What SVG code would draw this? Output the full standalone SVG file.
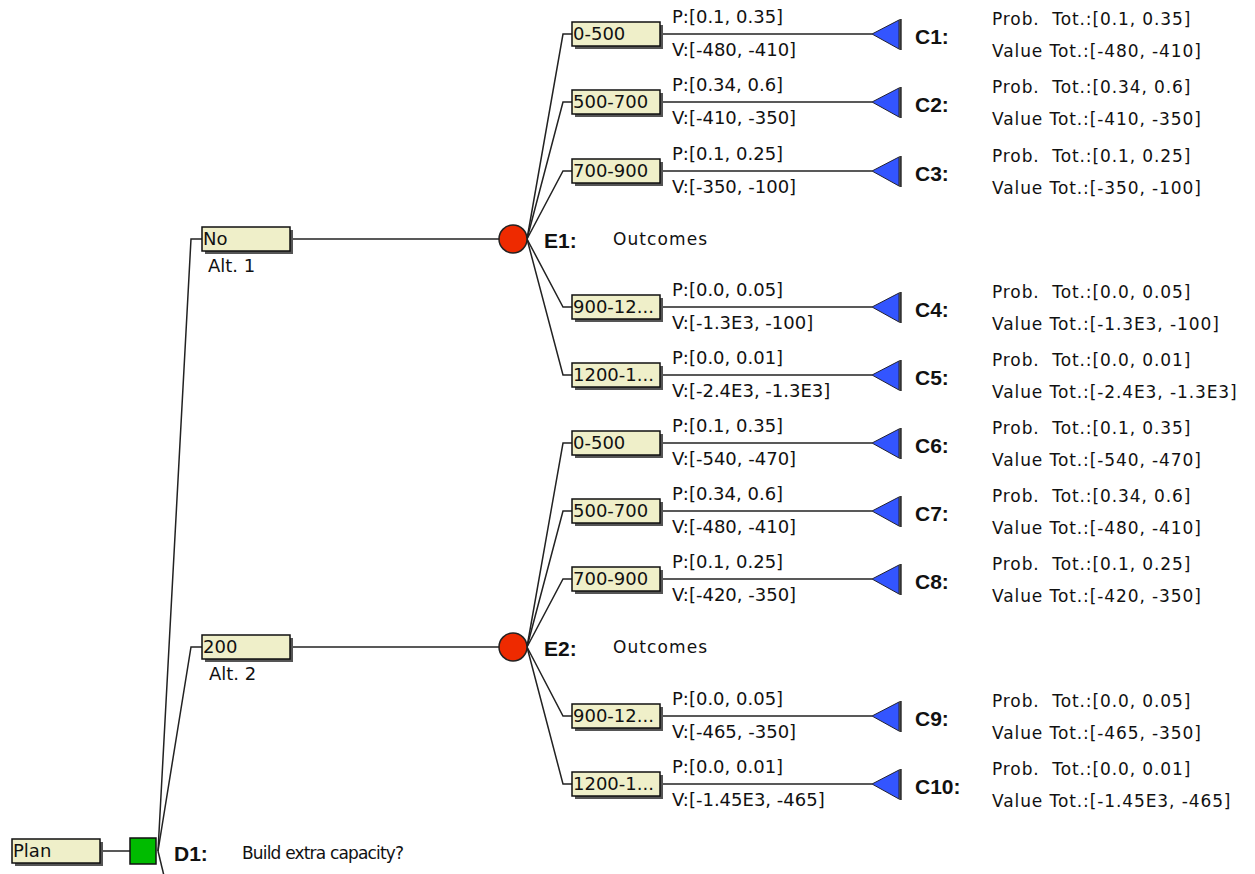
<svg xmlns="http://www.w3.org/2000/svg" width="1255" height="874" viewBox="0 0 1255 874">
  <style>
    .bg { fill: #ffffff; }
    .wire { fill: none; stroke: #222; stroke-width: 1.5; }
    .box { fill: #efefc9; stroke: #111; stroke-width: 1.5; }
    .shadow { fill: #555; }
    .t { font-family: "DejaVu Sans", Verdana, sans-serif; font-size: 18px; fill: #111; }
    .s { font-family: "DejaVu Sans", Verdana, sans-serif; font-size: 17px; fill: #111; letter-spacing: 0.9px; white-space: pre; }
    .lbl { font-family: "Liberation Sans", Arial, sans-serif; font-size: 21px; font-weight: bold; fill: #111; }
    .chance { fill: #ee2a00; stroke: #222; stroke-width: 1.5; }
    .decision { fill: #00bb00; stroke: #111; stroke-width: 1.5; }
    .tri { fill: #3355ff; stroke: #223; stroke-width: 1; }
    .triedge { stroke: #333; stroke-width: 2.5; }
  </style>
  <defs>
    <g id="outbox">
      <rect class="shadow" x="3" y="3" width="88" height="24"/>
      <rect class="box" x="0" y="0" width="88" height="24"/>
    </g>
    <g id="term">
      <polygon class="tri" points="0,0 27,-14 27,15"/>
      <line class="triedge" x1="28.5" y1="-15" x2="28.5" y2="16"/>
    </g>
  </defs>
  <rect class="bg" x="0" y="0" width="1255" height="874"/>

  <!-- connectors -->
  <g id="connectors">
    <line class="wire" x1="100" y1="851" x2="130" y2="851"/>
    <polyline class="wire" points="158,851 191,239 202,239"/>
    <polyline class="wire" points="158,851 191,647 202,647"/>
    <line class="wire" x1="158" y1="851" x2="165" y2="880"/>
    <line class="wire" x1="290" y1="239" x2="499" y2="239"/>
    <line class="wire" x1="290" y1="647" x2="499" y2="647"/>
    <!-- E1 branches -->
    <polyline class="wire" points="527,239 563,34 572,34"/>
    <polyline class="wire" points="527,239 563,102 572,102"/>
    <polyline class="wire" points="527,239 563,171 572,171"/>
    <polyline class="wire" points="527,239 563,307 572,307"/>
    <polyline class="wire" points="527,239 563,375 572,375"/>
    <!-- E2 branches -->
    <polyline class="wire" points="527,647 563,443 572,443"/>
    <polyline class="wire" points="527,647 563,511 572,511"/>
    <polyline class="wire" points="527,647 563,579 572,579"/>
    <polyline class="wire" points="527,647 563,716 572,716"/>
    <polyline class="wire" points="527,647 563,784 572,784"/>
    <!-- outcome to consequence lines -->
    <line class="wire" x1="660" y1="34" x2="872" y2="34"/>
    <line class="wire" x1="660" y1="102" x2="872" y2="102"/>
    <line class="wire" x1="660" y1="171" x2="872" y2="171"/>
    <line class="wire" x1="660" y1="307" x2="872" y2="307"/>
    <line class="wire" x1="660" y1="375" x2="872" y2="375"/>
    <line class="wire" x1="660" y1="443" x2="872" y2="443"/>
    <line class="wire" x1="660" y1="511" x2="872" y2="511"/>
    <line class="wire" x1="660" y1="579" x2="872" y2="579"/>
    <line class="wire" x1="660" y1="716" x2="872" y2="716"/>
    <line class="wire" x1="660" y1="784" x2="872" y2="784"/>
  </g>

  <!-- root -->
  <g id="plan">
    <use href="#outbox" x="12" y="839"/>
    <text class="t" x="13" y="857">Plan</text>
  </g>
  <g id="D1">
    <rect class="decision" x="130" y="838" width="26" height="26"/>
    <text class="lbl" x="174" y="861">D1:</text>
    <text class="s" x="242" y="859" textLength="163" lengthAdjust="spacing">Build extra capacity?</text>
  </g>

  <!-- alternatives -->
  <g id="alt1">
    <use href="#outbox" x="202" y="227"/>
    <text class="t" x="203" y="245">No</text>
    <text class="t" x="208" y="272">Alt. 1</text>
  </g>
  <g id="alt2">
    <use href="#outbox" x="202" y="635"/>
    <text class="t" x="203" y="653">200</text>
    <text class="t" x="209" y="680">Alt. 2</text>
  </g>

  <!-- chance nodes -->
  <g id="E1">
    <circle class="chance" cx="513" cy="239" r="14"/>
    <text class="lbl" x="544" y="248">E1:</text>
    <text class="s" x="613" y="245" textLength="95" lengthAdjust="spacing">Outcomes</text>
  </g>
  <g id="E2">
    <circle class="chance" cx="513" cy="647" r="14"/>
    <text class="lbl" x="544" y="656">E2:</text>
    <text class="s" x="613" y="653" textLength="95" lengthAdjust="spacing">Outcomes</text>
  </g>

  <!-- outcomes of E1 -->
  <g id="o1">
    <use href="#outbox" x="572" y="22"/>
    <text class="t" x="573" y="40">0-500</text>
    <text class="t" x="672" y="23">P:[0.1, 0.35]</text>
    <text class="t" x="672" y="56">V:[-480, -410]</text>
  </g>
  <g id="o2">
    <use href="#outbox" x="572" y="90"/>
    <text class="t" x="573" y="108">500-700</text>
    <text class="t" x="672" y="91">P:[0.34, 0.6]</text>
    <text class="t" x="672" y="124">V:[-410, -350]</text>
  </g>
  <g id="o3">
    <use href="#outbox" x="572" y="159"/>
    <text class="t" x="573" y="177">700-900</text>
    <text class="t" x="672" y="160">P:[0.1, 0.25]</text>
    <text class="t" x="672" y="193">V:[-350, -100]</text>
  </g>
  <g id="o4">
    <use href="#outbox" x="572" y="295"/>
    <text class="t" x="573" y="313">900-12...</text>
    <text class="t" x="672" y="296">P:[0.0, 0.05]</text>
    <text class="t" x="672" y="329">V:[-1.3E3, -100]</text>
  </g>
  <g id="o5">
    <use href="#outbox" x="572" y="363"/>
    <text class="t" x="573" y="381">1200-1...</text>
    <text class="t" x="672" y="364">P:[0.0, 0.01]</text>
    <text class="t" x="672" y="397">V:[-2.4E3, -1.3E3]</text>
  </g>

  <!-- outcomes of E2 -->
  <g id="o6">
    <use href="#outbox" x="572" y="431"/>
    <text class="t" x="573" y="449">0-500</text>
    <text class="t" x="672" y="432">P:[0.1, 0.35]</text>
    <text class="t" x="672" y="465">V:[-540, -470]</text>
  </g>
  <g id="o7">
    <use href="#outbox" x="572" y="499"/>
    <text class="t" x="573" y="517">500-700</text>
    <text class="t" x="672" y="500">P:[0.34, 0.6]</text>
    <text class="t" x="672" y="533">V:[-480, -410]</text>
  </g>
  <g id="o8">
    <use href="#outbox" x="572" y="567"/>
    <text class="t" x="573" y="585">700-900</text>
    <text class="t" x="672" y="568">P:[0.1, 0.25]</text>
    <text class="t" x="672" y="601">V:[-420, -350]</text>
  </g>
  <g id="o9">
    <use href="#outbox" x="572" y="704"/>
    <text class="t" x="573" y="722">900-12...</text>
    <text class="t" x="672" y="705">P:[0.0, 0.05]</text>
    <text class="t" x="672" y="738">V:[-465, -350]</text>
  </g>
  <g id="o10">
    <use href="#outbox" x="572" y="772"/>
    <text class="t" x="573" y="790">1200-1...</text>
    <text class="t" x="672" y="773">P:[0.0, 0.01]</text>
    <text class="t" x="672" y="806">V:[-1.45E3, -465]</text>
  </g>

  <!-- consequence nodes -->
  <g id="C1">
    <use href="#term" x="872" y="34"/>
    <text class="lbl" x="915" y="44">C1:</text>
    <text class="s" x="992" y="25">Prob.  Tot.:[0.1, 0.35]</text>
    <text class="s" x="992" y="57">Value Tot.:[-480, -410]</text>
  </g>
  <g id="C2">
    <use href="#term" x="872" y="102"/>
    <text class="lbl" x="915" y="112">C2:</text>
    <text class="s" x="992" y="93">Prob.  Tot.:[0.34, 0.6]</text>
    <text class="s" x="992" y="125">Value Tot.:[-410, -350]</text>
  </g>
  <g id="C3">
    <use href="#term" x="872" y="171"/>
    <text class="lbl" x="915" y="181">C3:</text>
    <text class="s" x="992" y="162">Prob.  Tot.:[0.1, 0.25]</text>
    <text class="s" x="992" y="194">Value Tot.:[-350, -100]</text>
  </g>
  <g id="C4">
    <use href="#term" x="872" y="307"/>
    <text class="lbl" x="915" y="317">C4:</text>
    <text class="s" x="992" y="298">Prob.  Tot.:[0.0, 0.05]</text>
    <text class="s" x="992" y="330">Value Tot.:[-1.3E3, -100]</text>
  </g>
  <g id="C5">
    <use href="#term" x="872" y="375"/>
    <text class="lbl" x="915" y="385">C5:</text>
    <text class="s" x="992" y="366">Prob.  Tot.:[0.0, 0.01]</text>
    <text class="s" x="992" y="398">Value Tot.:[-2.4E3, -1.3E3]</text>
  </g>
  <g id="C6">
    <use href="#term" x="872" y="443"/>
    <text class="lbl" x="915" y="453">C6:</text>
    <text class="s" x="992" y="434">Prob.  Tot.:[0.1, 0.35]</text>
    <text class="s" x="992" y="466">Value Tot.:[-540, -470]</text>
  </g>
  <g id="C7">
    <use href="#term" x="872" y="511"/>
    <text class="lbl" x="915" y="521">C7:</text>
    <text class="s" x="992" y="502">Prob.  Tot.:[0.34, 0.6]</text>
    <text class="s" x="992" y="534">Value Tot.:[-480, -410]</text>
  </g>
  <g id="C8">
    <use href="#term" x="872" y="579"/>
    <text class="lbl" x="915" y="589">C8:</text>
    <text class="s" x="992" y="570">Prob.  Tot.:[0.1, 0.25]</text>
    <text class="s" x="992" y="602">Value Tot.:[-420, -350]</text>
  </g>
  <g id="C9">
    <use href="#term" x="872" y="716"/>
    <text class="lbl" x="915" y="726">C9:</text>
    <text class="s" x="992" y="707">Prob.  Tot.:[0.0, 0.05]</text>
    <text class="s" x="992" y="739">Value Tot.:[-465, -350]</text>
  </g>
  <g id="C10">
    <use href="#term" x="872" y="784"/>
    <text class="lbl" x="915" y="794">C10:</text>
    <text class="s" x="992" y="775">Prob.  Tot.:[0.0, 0.01]</text>
    <text class="s" x="992" y="807">Value Tot.:[-1.45E3, -465]</text>
  </g>
</svg>
